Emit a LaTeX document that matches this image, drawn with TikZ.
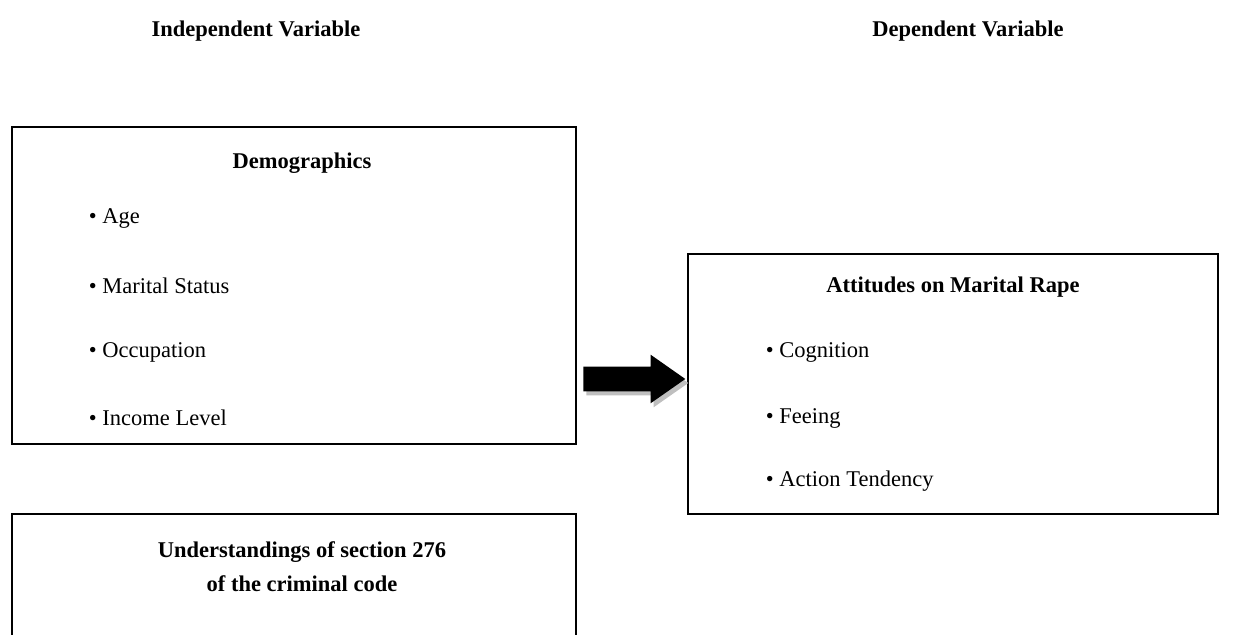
\documentclass[tikz,border=0pt]{standalone}
\usepackage{fontspec}
\setmainfont{Liberation Serif}
\usetikzlibrary{shapes,positioning,calc,fit,shadows}

\begin{document}
\begin{tikzpicture}[x=0.025cm, y=-0.025cm,
    every node/.style={font=\fontsize{16}{24}\selectfont},
    box/.style={draw, line width=1.4pt, inner sep=0pt},
    head/.style={font=\fontsize{16}{24}\selectfont\bfseries},
    item/.style={anchor=west}]
    \useasboundingbox (0,0) rectangle (1244,635);

    % Column headings
    \node[head] (indep) at (256, 31) {Independent Variable};
    \node[head] (dep) at (968, 31) {Dependent Variable};

    % Demographics
    \node[box, fit={(12,127) (576,444)}] (demo) {};
    \node[head] (demotitle) at (302, 163) {Demographics};
    \node[item] (age) at (84, 219) {\textbullet\ Age};
    \node[item] (marital) at (84, 286) {\textbullet\ Marital Status};
    \node[item] (occup) at (84, 352) {\textbullet\ Occupation};
    \node[item] (income) at (84, 418) {\textbullet\ Income Level};

    % Section 276 (open at the bottom)
    \node[inner sep=0pt, fit={(12,514) (576,640)}] (law) {};
    \draw[line width=1.4pt] (law.south west) -- (law.north west) -- (law.north east) -- (law.south east);
    \node[head, align=center] (lawtitle) at (302, 567) {Understandings of section 276\\of the criminal code};

    % Attitudes
    \node[box, fit={(688,254) (1218,514)}] (att) {};
    \node[head] (atttitle) at (953, 287) {Attitudes on Marital Rape};
    \node[item] (cogn) at (761, 352) {\textbullet\ Cognition};
    \node[item] (feel) at (761, 418) {\textbullet\ Feeing};
    \node[item] (action) at (761, 481) {\textbullet\ Action Tendency};

    % Block arrow
    \node[single arrow, fill=black, anchor=tail, inner xsep=0pt, inner ysep=0.3cm,
        single arrow head extend=0.3cm, single arrow tip angle=70, minimum height=2.55cm,
        drop shadow={shadow xshift=0.075cm, shadow yshift=-0.1cm, fill=black!25, opacity=1}]
        (flow) at (583, 379) {};
\end{tikzpicture}
\end{document}
